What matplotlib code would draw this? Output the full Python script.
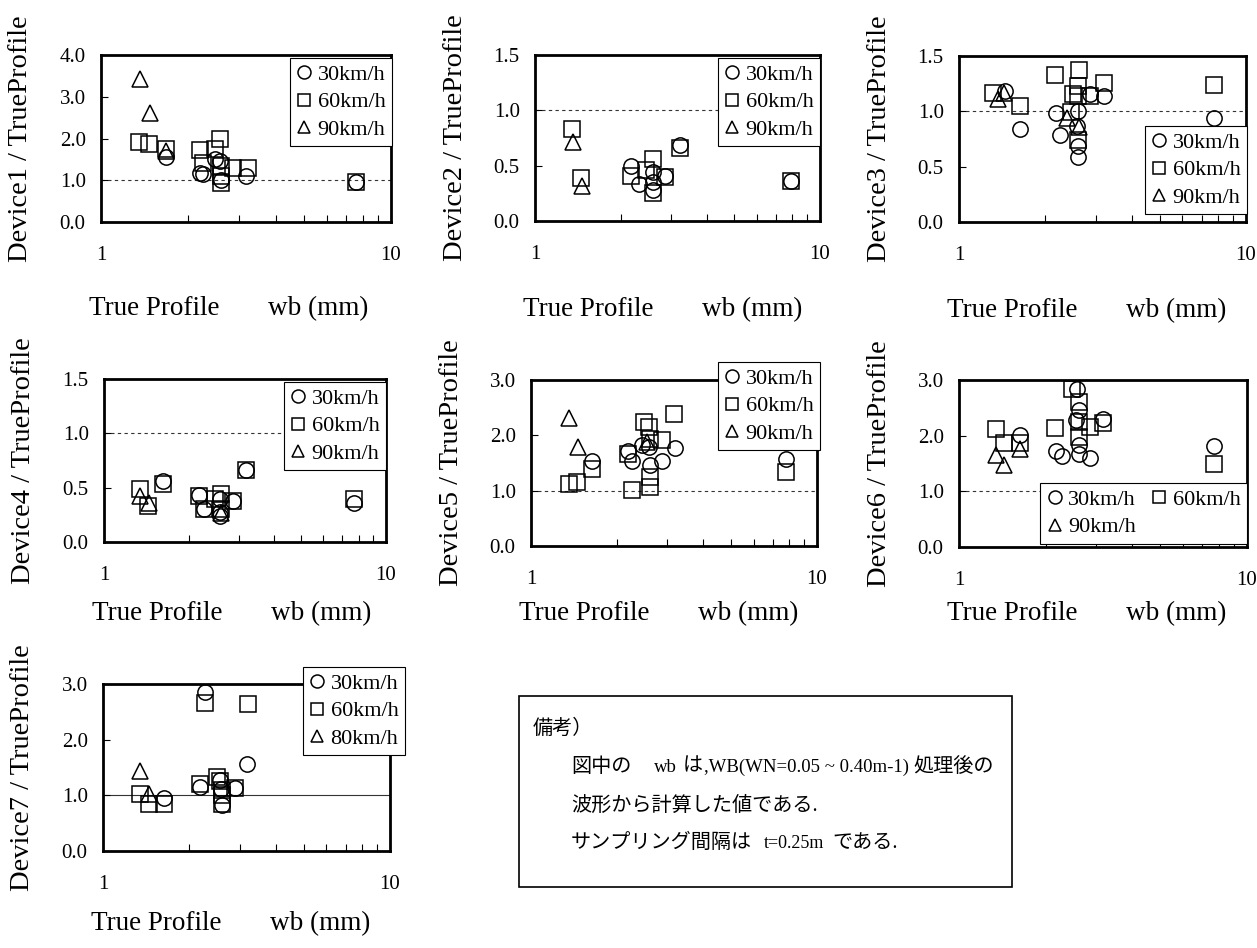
import matplotlib
matplotlib.use('Agg')
import matplotlib.pyplot as plt
from matplotlib.ticker import FixedLocator, NullFormatter, FormatStrFormatter
from matplotlib.patches import Rectangle

plt.rcParams['font.family'] = ['Liberation Serif', 'Noto Sans CJK JP']
plt.rcParams['axes.linewidth'] = 2.0

# --- data: True Profile wb (mm) vs device / true-profile ratio ---
# Device1
dev1_x30 = [1.67, 2.47, 2.57, 2.19, 2.24, 3.16, 2.60, 7.60]
dev1_y30 = [1.55, 1.52, 1.45, 1.17, 1.15, 1.09, 1.00, 0.95]
dev1_x60 = [1.356, 1.464, 1.67, 2.19, 2.47, 2.57, 2.25, 2.60, 2.86, 3.22, 2.60, 2.60, 7.60]
dev1_y60 = [1.92, 1.87, 1.76, 1.72, 1.76, 2.00, 1.42, 1.33, 1.29, 1.29, 1.10, 0.93, 0.97]
dev1_x90 = [1.363, 1.476, 1.671]
dev1_y90 = [3.42, 2.62, 1.71]

# Device2
dev2_x30 = [2.17, 2.31, 2.60, 2.60, 2.60, 2.86, 3.23, 7.90]
dev2_y30 = [0.495, 0.33, 0.44, 0.35, 0.28, 0.41, 0.685, 0.36]
dev2_x60 = [1.345, 1.446, 2.17, 2.46, 2.60, 2.60, 2.86, 3.23, 7.90]
dev2_y60 = [0.83, 0.39, 0.41, 0.46, 0.56, 0.25, 0.40, 0.66, 0.36]
dev2_x90 = [1.355, 1.458]
dev2_y90 = [0.71, 0.32]

# Device3
dev3_x30 = [1.447, 1.632, 2.18, 2.25, 2.60, 2.58, 2.60, 2.60, 2.87, 3.19, 7.75]
dev3_y30 = [1.18, 0.84, 0.985, 0.79, 1.00, 0.87, 0.69, 0.59, 1.16, 1.14, 0.94]
dev3_x60 = [1.318, 1.632, 2.16, 2.50, 2.61, 2.60, 2.60, 2.45, 2.60, 2.85, 3.19, 7.71]
dev3_y60 = [1.166, 1.05, 1.33, 1.16, 1.37, 1.23, 1.14, 0.99, 0.74, 1.14, 1.26, 1.235]
dev3_x90 = [1.364, 1.43, 2.37, 2.61]
dev3_y90 = [1.11, 1.17, 0.94, 0.86]

# Device4
dev4_x30 = [1.62, 2.17, 2.26, 2.57, 2.57, 2.57, 2.87, 3.18, 7.72]
dev4_y30 = [0.56, 0.43, 0.30, 0.40, 0.28, 0.24, 0.38, 0.66, 0.36]
dev4_x60 = [1.339, 1.433, 1.62, 2.17, 2.26, 2.47, 2.60, 2.60, 2.87, 3.18, 7.72]
dev4_y60 = [0.49, 0.33, 0.53, 0.42, 0.30, 0.40, 0.44, 0.30, 0.38, 0.66, 0.40]
dev4_x90 = [1.339, 1.44, 2.60]
dev4_y90 = [0.42, 0.36, 0.27]

# Device5
dev5_x30 = [1.64, 2.18, 2.25, 2.45, 2.58, 2.60, 2.87, 3.20, 7.80]
dev5_y30 = [1.54, 1.72, 1.54, 1.82, 1.79, 1.46, 1.54, 1.78, 1.58]
dev5_x60 = [1.36, 1.45, 1.64, 2.18, 2.26, 2.48, 2.58, 2.60, 2.60, 2.60, 2.87, 3.15, 7.80]
dev5_y60 = [1.12, 1.16, 1.40, 1.66, 1.01, 2.25, 2.15, 1.94, 1.25, 1.07, 1.91, 2.38, 1.34]
dev5_x90 = [1.362, 1.46, 2.55]
dev5_y90 = [2.31, 1.79, 1.88]

# Device6
dev6_x30 = [1.63, 2.17, 2.27, 2.56, 2.60, 2.55, 2.60, 2.60, 2.85, 3.17, 7.66]
dev6_y30 = [2.01, 1.73, 1.64, 2.83, 2.46, 2.28, 1.84, 1.67, 1.60, 2.30, 1.81]
dev6_x60 = [1.341, 1.434, 1.63, 2.16, 2.46, 2.60, 2.60, 2.60, 2.85, 3.17, 7.70]
dev6_y60 = [2.12, 1.86, 1.86, 2.13, 2.83, 2.61, 2.25, 1.97, 2.16, 2.22, 1.49]
dev6_x90 = [1.341, 1.434, 1.63]
dev6_y90 = [1.66, 1.48, 1.76]

# Device7 (third series is 80km/h)
dev7_x30 = [1.635, 2.18, 2.26, 2.55, 2.58, 2.60, 2.89, 3.17]
dev7_y30 = [0.96, 1.15, 2.85, 1.27, 1.12, 0.82, 1.14, 1.56]
dev7_x60 = [1.349, 1.45, 1.635, 2.18, 2.26, 2.50, 2.55, 2.60, 2.60, 2.60, 2.89, 3.19]
dev7_y60 = [1.02, 0.85, 0.85, 1.20, 2.65, 1.33, 1.25, 1.10, 1.00, 0.85, 1.14, 2.64]
dev7_x80 = [1.349, 1.45]
dev7_y80 = [1.43, 1.02]

W, H = 1257, 948
fig = plt.figure(figsize=(W / 100, H / 100), dpi=100)


def px_rect(l, t, r, b):
    return [l / W, 1 - b / H, (r - l) / W, (b - t) / H]


# name, series, ylim top, ytick step, axes box px, legend (right, top) px, ncol, xlabel offset, dashed ref
panels = [
    ('Device1', [(dev1_x30, dev1_y30, '30km/h'), (dev1_x60, dev1_y60, '60km/h'), (dev1_x90, dev1_y90, '90km/h')],
     4.0, 1.0, (101, 55, 391, 222), (392, 58), 1, 93, True),
    ('Device2', [(dev2_x30, dev2_y30, '30km/h'), (dev2_x60, dev2_y60, '60km/h'), (dev2_x90, dev2_y90, '90km/h')],
     1.5, 0.5, (535, 55, 820, 221), (820, 58), 1, 95, True),
    ('Device3', [(dev3_x30, dev3_y30, '30km/h'), (dev3_x60, dev3_y60, '60km/h'), (dev3_x90, dev3_y90, '90km/h')],
     1.5, 0.5, (959, 56, 1246, 222), (1247, 126), 1, 95, True),
    ('Device4', [(dev4_x30, dev4_y30, '30km/h'), (dev4_x60, dev4_y60, '60km/h'), (dev4_x90, dev4_y90, '90km/h')],
     1.5, 0.5, (104, 379, 386, 542), (386, 382), 1, 78, True),
    ('Device5', [(dev5_x30, dev5_y30, '30km/h'), (dev5_x60, dev5_y60, '60km/h'), (dev5_x90, dev5_y90, '90km/h')],
     3.0, 1.0, (531, 380, 817, 546), (820, 362), 1, 74, True),
    ('Device6', [(dev6_x30, dev6_y30, '30km/h'), (dev6_x60, dev6_y60, '60km/h'), (dev6_x90, dev6_y90, '90km/h')],
     3.0, 1.0, (959, 380, 1247, 547), (1247, 483), 2, 73, True),
    ('Device7', [(dev7_x30, dev7_y30, '30km/h'), (dev7_x60, dev7_y60, '60km/h'), (dev7_x80, dev7_y80, '80km/h')],
     3.0, 1.0, (103, 684, 390, 851), (405, 667), 1, 79, False),
]

markers = ['o', 's', '^']

for name, series, ytop, ystep, box, leg_pos, ncol, xl_off, dashed in panels:
    ax = fig.add_axes(px_rect(*box))
    ax.set_xscale('log')
    ax.set_xlim(1, 10)
    ax.set_ylim(0, ytop)

    if dashed:
        ax.axhline(1.0, color='#333333', lw=0.8, ls=(0, (3, 3)), zorder=1)
    else:
        ax.axhline(1.0, color='#333333', lw=0.8, zorder=1)

    handles = []
    for (xs, ys, lab), m in zip(series, markers):
        h, = ax.plot(xs, ys, ls='none', marker=m, markersize=11, mfc='none',
                     mec='black', mew=1.1, label=lab, zorder=3)
        handles.append(h)

    ax.xaxis.set_major_locator(FixedLocator([1, 10]))
    ax.xaxis.set_major_formatter(FormatStrFormatter('%g'))
    ax.xaxis.set_minor_locator(FixedLocator([2, 3, 4, 5, 6, 7, 8, 9]))
    ax.xaxis.set_minor_formatter(NullFormatter())
    n = int(round(ytop / ystep))
    ax.set_yticks([i * ystep for i in range(n + 1)])
    ax.yaxis.set_major_formatter(FormatStrFormatter('%.1f'))

    ax.tick_params(axis='x', which='major', direction='in', length=0, pad=17, labelsize=15)
    ax.tick_params(axis='x', which='minor', direction='in', length=5, width=0.8)
    ax.tick_params(axis='y', which='major', direction='in', length=5, width=0.8, pad=11, labelsize=15)

    # axis titles
    ax.annotate(name + ' / TrueProfile', xy=(0, 0.5), xycoords='axes fraction',
                xytext=(-80, 0), textcoords='offset pixels', rotation=90,
                ha='center', va='center', fontsize=20.5)
    ax.annotate('True Profile', xy=(0, 0), xycoords='axes fraction',
                xytext=(-12, -xl_off), textcoords='offset pixels',
                ha='left', va='baseline', fontsize=19.5)
    ax.annotate('wb (mm)', xy=(0, 0), xycoords='axes fraction',
                xytext=(167, -xl_off), textcoords='offset pixels',
                ha='left', va='baseline', fontsize=19.5)

    if ncol == 2:
        # two columns, filled so that the first row reads 30km/h, 60km/h
        handles = [handles[0], handles[2], handles[1]]
    leg = ax.legend(handles=handles, loc='upper right',
                    bbox_to_anchor=(leg_pos[0] / W, 1 - leg_pos[1] / H),
                    bbox_transform=fig.transFigure, borderaxespad=0, ncol=ncol,
                    fontsize=16, markerscale=0.85, handlelength=0.7, handletextpad=0.25,
                    labelspacing=0.3, borderpad=0.3, columnspacing=0.7,
                    fancybox=False, framealpha=1, edgecolor='black')
    leg.get_frame().set_linewidth(0.8)
    leg.set_zorder(5)

# notes box
fig.patches.append(Rectangle((519 / W, 1 - 887 / H), (1012 - 519) / W, (887 - 696) / H,
                             transform=fig.transFigure, fill=False, ec='black', lw=1.2))

jp = 14.5
en = 13.5
notes = [
    (533, 729, '備考）', jp),
    (571, 767, '図中の', jp),
    (654, 767, 'wb', en),
    (683, 767, 'は', jp),
    (704, 767, ',WB(WN=0.05 ~ 0.40m-1)', en),
    (913, 767, '処理後の', jp),
    (571, 806, '波形から計算した値である.', jp),
    (571, 843, 'サンプリング間隔は', jp),
    (764, 843, 't=0.25m', 13),
    (832, 843, 'である.', jp),
]
for x, y, s, fs in notes:
    fig.text(x / W, 1 - y / H, s, ha='left', va='center', fontsize=fs,
             family=['Liberation Serif', 'Noto Sans CJK JP'])

fig.savefig('out.png', dpi=100)
